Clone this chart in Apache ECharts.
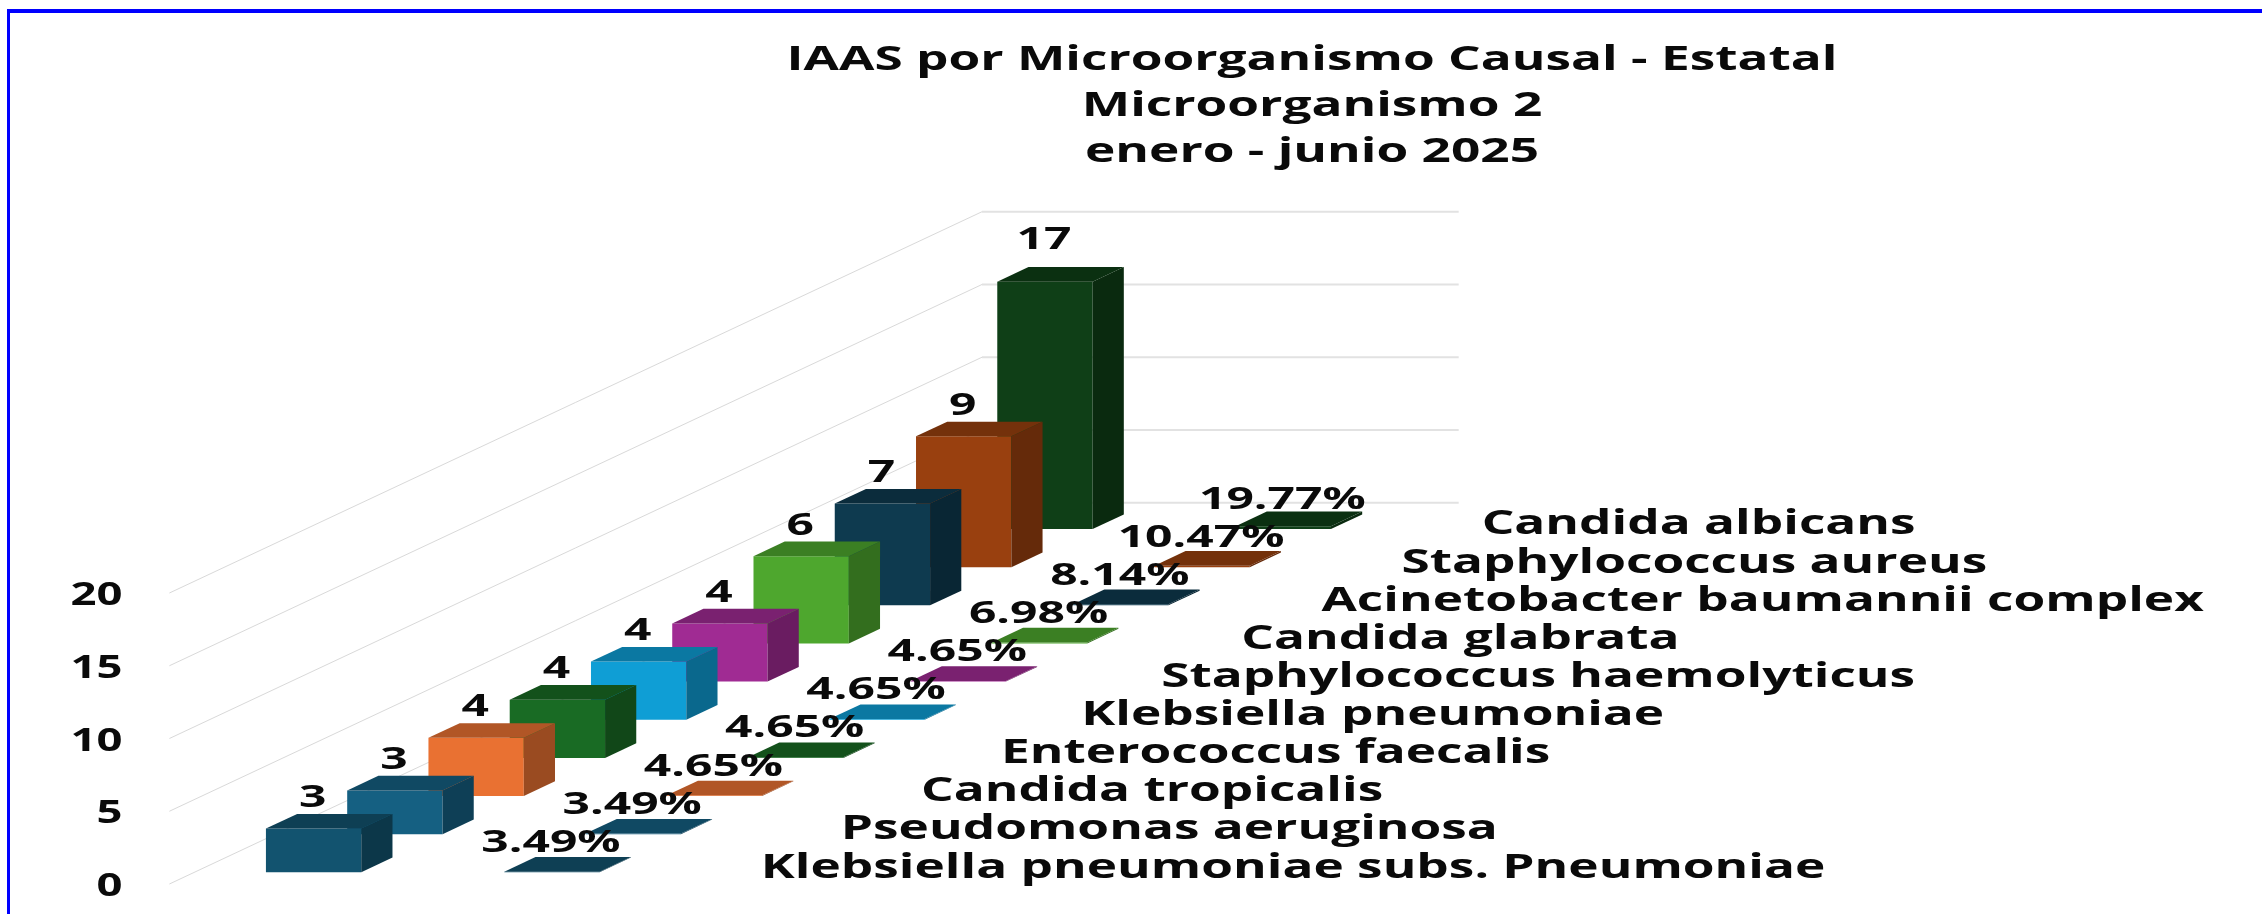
<!DOCTYPE html>
<html><head><meta charset="utf-8">
<style>html,body{margin:0;padding:0;background:#fff}#c{width:2262px;height:914px}</style>
<script src="https://cdn.jsdelivr.net/npm/echarts@6/dist/echarts.min.js"></script>
</head><body><div id="c"></div>
<script>
const categories = ['Klebsiella pneumoniae subs. Pneumoniae','Pseudomonas aeruginosa','Candida tropicalis','Enterococcus faecalis','Klebsiella pneumoniae','Staphylococcus haemolyticus','Candida glabrata','Acinetobacter baumannii complex','Staphylococcus aureus','Candida albicans'];
const casos = [3,3,4,4,4,4,6,7,9,17];
const porcentajes = [3.49,3.49,4.65,4.65,4.65,4.65,6.98,8.14,10.47,19.77];
const yTicks = [0,5,10,15,20];
const colores = ['#12536F','#156082','#E97132','#196B24','#0F9ED5','#A02B93','#4EA72E','#0E3A4F','#99400F','#0F3F17'];
const titulo = 'IAAS por Microorganismo Causal - Estatal\nMicroorganismo 2\nenero - junio 2025';

const FONT='"Open Sans"', catStep=81.26, serStep=238.35, rise=0.4692, barDepth=0.384, barWidth=0.4;
function shade(hex,f){const n=parseInt(hex.slice(1),16);const c=s=>Math.round(((n>>s)&255)*f).toString(16).padStart(2,'0');return '#'+c(16)+c(8)+c(0);}
function proj(api,cs,i,depth,ser,v){const p=api.coord([i,v]);const off=p[0]-cs.x+depth*catStep;return [cs.x+off+ser*serStep,p[1]-off*rise];}
function txt(text,x,y,size,stretch,align){return {type:'text',x,y,scaleX:stretch,z2:50,silent:true,style:{text,fontFamily:FONT,fontWeight:700,fontSize:size,fill:'#0a0a0a',align:align||'center',verticalAlign:'middle'}};}
function box(api,cs,i,ser,v,color){
  const d=barDepth/2,w=barWidth/2,s=ser+0.5;
  const a=proj(api,cs,i,-d,s-w,0),b=proj(api,cs,i,-d,s+w,0),c=proj(api,cs,i,-d,s+w,v),e=proj(api,cs,i,-d,s-w,v);
  const f=proj(api,cs,i,d,s+w,0),g=proj(api,cs,i,d,s+w,v),h=proj(api,cs,i,d,s-w,v);
  return [
    {type:'polygon',shape:{points:[a,b,c,e]},style:{fill:color}},
    {type:'polygon',shape:{points:[b,f,g,c]},style:{fill:shade(color,0.66)}},
    {type:'polygon',shape:{points:[e,c,g,h]},style:{fill:shade(color,0.76)}}
  ];
}
const chart=echarts.init(document.getElementById('c'),null,{renderer:'canvas'});
const base={type:'custom',coordinateSystem:'cartesian2d',clip:false,silent:true,animation:false};
chart.setOption({
  animation:false,backgroundColor:'#fff',
  grid:{left:169.4,top:593,width:812.6,height:291,containLabel:false},
  xAxis:{type:'category',data:categories,show:false},
  yAxis:{type:'value',min:0,max:20,interval:5,show:false},
  graphic:[
    {type:'rect',shape:{x:7,y:9,width:2255,height:4},style:{fill:'#0000FF'},silent:true},
    {type:'rect',shape:{x:7,y:9,width:3,height:905},style:{fill:'#0000FF'},silent:true},
    {type:'text',x:1312,y:106,scaleX:1.51,silent:true,style:{text:titulo,fontFamily:FONT,fontWeight:700,fontSize:34,lineHeight:46,fill:'#0a0a0a',align:'center',verticalAlign:'middle'}}
  ],
  series:[
    Object.assign({},base,{name:'Rejilla',z:1,data:yTicks.map(v=>[0,v]),renderItem(params,api){
      const cs=params.coordSys,v=api.value(1),p=api.coord([0,v]);
      const l=[cs.x,p[1]],k=[cs.x+cs.width,p[1]-cs.width*rise],r=[k[0]+2*serStep,k[1]];
      return {type:'group',children:[
        {type:'polyline',shape:{points:[l,k]},style:{stroke:'#D9D9D9',lineWidth:1,fill:null}},
        {type:'polyline',shape:{points:[k,r]},style:{stroke:'#E2E2E2',lineWidth:2,fill:null}},
        txt(String(v),122.4,p[1]+3,32,1.42,'right')
      ]};
    }}),
    Object.assign({},base,{name:'Casos',z:2,data:casos.map((v,i)=>[i,v]).reverse(),renderItem(params,api){
      const cs=params.coordSys,i=api.value(0),v=api.value(1);
      const kids=box(api,cs,i,0,v,colores[i]);
      const t=proj(api,cs,i,-barDepth/2,0.5,v);
      kids.push(txt(String(v),t[0]-1,t[1]-(v>=15?41:30),30,1.6));
      return {type:'group',children:kids};
    }}),
    Object.assign({},base,{name:'Porcentaje',z:3,data:porcentajes.map((v,i)=>[i,v/100]).reverse(),renderItem(params,api){
      const cs=params.coordSys,i=api.value(0),v=api.value(1);
      const kids=box(api,cs,i,1,v,colores[i]);
      const t=proj(api,cs,i,-barDepth/2,1.5,0);
      kids.push(txt(porcentajes[i].toFixed(2)+'%',t[0]-1,t[1]-29,30,1.6));
      return {type:'group',children:kids};
    }}),
    Object.assign({},base,{name:'Categorías',z:4,data:categories.map((c,i)=>[i,0]),renderItem(params,api){
      const cs=params.coordSys,i=api.value(0);
      const t=proj(api,cs,i,0,2,0);
      return txt(categories[i],t[0]+74-i*1.16,t[1]+3,34,1.51,'left');
    }})
  ]
});
</script></body></html>
